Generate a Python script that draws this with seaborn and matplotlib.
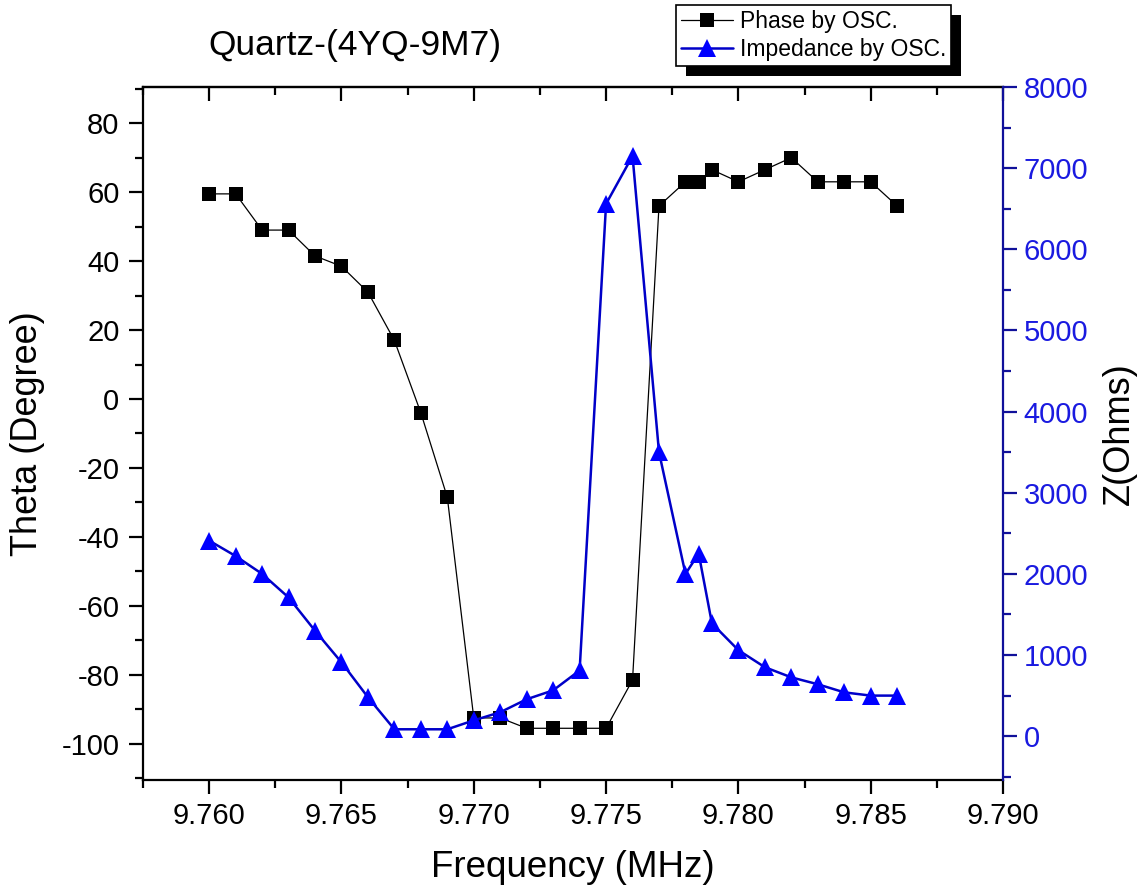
import matplotlib
matplotlib.use('Agg')
import matplotlib.pyplot as plt
import seaborn as sns
import pandas as pd
from matplotlib.ticker import MultipleLocator, FormatStrFormatter
from matplotlib.patches import Rectangle
from matplotlib.transforms import IdentityTransform

# === datos ===
freq = [9.760, 9.761, 9.762, 9.763, 9.764, 9.765, 9.766, 9.767, 9.768, 9.769,
        9.770, 9.771, 9.772, 9.773, 9.774, 9.775, 9.776, 9.777, 9.778, 9.7785,
        9.779, 9.780, 9.781, 9.782, 9.783, 9.784, 9.785, 9.786]
phase = [59.5, 59.5, 49, 49, 41.5, 38.5, 31, 17, -4, -28.5,
         -92.5, -92.5, -95.5, -95.5, -95.5, -95.5, -81.5, 56, 63, 63,
         66.5, 63, 66.5, 70, 63, 63, 63, 56]
impedance = [2410, 2220, 2000, 1710, 1300, 910, 480, 85, 85, 85,
             195, 295, 455, 565, 810, 6560, 7150, 3500, 2000, 2250,
             1390, 1060, 850, 725, 640, 540, 500, 500]

df = pd.DataFrame({'freq': freq, 'phase': phase, 'impedance': impedance})

sns.set_style('ticks')
plt.rcParams['font.family'] = ['Liberation Sans', 'DejaVu Sans']
plt.rcParams['axes.unicode_minus'] = False
plt.rcParams['text.color'] = 'black'
plt.rcParams['axes.labelcolor'] = 'black'
plt.rcParams['xtick.color'] = 'black'
plt.rcParams['ytick.color'] = 'black'

blue_axis = '#10109a'

fig = plt.figure(figsize=(11.43, 8.94), dpi=100)
ax = fig.add_axes([143 / 1143, 1 - 780 / 894, 860 / 1143, 693 / 894])
ax2 = ax.twinx()

sns.lineplot(data=df, x='freq', y='phase', ax=ax, color='black', lw=0.9,
             marker='s', markersize=10, markeredgewidth=0, legend=False,
             label='Phase by OSC.')
sns.lineplot(data=df, x='freq', y='impedance', ax=ax2, color='#0000c8', lw=1.8,
             marker='^', markersize=12.5, markerfacecolor='#0000ff',
             markeredgewidth=0, legend=False, label='Impedance by OSC.')

# --- ejes ---
ax.set_xlim(9.7575, 9.790)
ax.set_ylim(-110.5, 90.5)
ax2.set_ylim(-540, 8000)

ax.xaxis.set_major_locator(MultipleLocator(0.005))
ax.xaxis.set_minor_locator(MultipleLocator(0.0025))
ax.xaxis.set_major_formatter(FormatStrFormatter('%.3f'))
ax.yaxis.set_major_locator(MultipleLocator(20))
ax.yaxis.set_minor_locator(MultipleLocator(10))
ax2.yaxis.set_major_locator(MultipleLocator(1000))
ax2.yaxis.set_minor_locator(MultipleLocator(500))

for s in ['left', 'bottom', 'top']:
    ax.spines[s].set_linewidth(1.6)
    ax.spines[s].set_color('black')
ax.spines['right'].set_visible(False)
for s in ['left', 'bottom', 'top']:
    ax2.spines[s].set_visible(False)
ax2.spines['right'].set_linewidth(1.6)
ax2.spines['right'].set_color(blue_axis)

ax.tick_params(axis='both', which='major', direction='out', length=10, width=1.6,
               labelsize=21, colors='black')
ax.tick_params(axis='both', which='minor', direction='out', length=5.5, width=1.6)
ax.tick_params(axis='y', pad=7)
ax.tick_params(axis='x', pad=6)
ax2.tick_params(axis='y', which='major', direction='out', length=10, width=1.6,
                labelsize=21, color=blue_axis, labelcolor='#1a1ae0', pad=5)
ax2.tick_params(axis='y', which='minor', direction='out', length=5.5, width=1.6,
                color=blue_axis)

# ticks hacia dentro en el borde superior
top = ax.secondary_xaxis('top')
top.xaxis.set_major_locator(MultipleLocator(0.005))
top.xaxis.set_minor_locator(MultipleLocator(0.0025))
top.tick_params(which='major', direction='in', length=10, width=1.6, labeltop=False)
top.tick_params(which='minor', direction='in', length=5.5, width=1.6)
top.spines['top'].set_linewidth(1.6)

ax.set_xlabel('Frequency (MHz)', fontsize=26.5, labelpad=14, color='black')
ax.set_ylabel('Theta (Degree)', fontsize=26, labelpad=12, color='black')
ax2.set_ylabel('Z(Ohms)', fontsize=26, labelpad=10, color='black')
ax.grid(False)
ax2.grid(False)

fig.text(355 / 1143, 1 - 46 / 894, 'Quartz-(4YQ-9M7)', fontsize=25.5,
         ha='center', va='center', color='black')

# --- leyenda con sombra negra ---
handles = [ax.lines[0], ax2.lines[0]]
labels = ['Phase by OSC.', 'Impedance by OSC.']
leg = fig.legend(handles, labels, loc='upper left',
                 bbox_to_anchor=(676 / 1143, 1 - 5 / 894), fontsize=16.5,
                 frameon=True, fancybox=False, framealpha=1, edgecolor='black',
                 borderpad=0.2, handlelength=2.3, handletextpad=0.3,
                 labelspacing=0.25, borderaxespad=0)
leg.get_frame().set_linewidth(1.2)
for t in leg.get_texts():
    t.set_color('black')

fig.canvas.draw()
bb = leg.get_window_extent()
shadow = Rectangle((bb.x0 + 10, bb.y0 - 10), bb.width, bb.height,
                   transform=IdentityTransform(), facecolor='black',
                   edgecolor='none', zorder=leg.get_zorder() - 0.1)
fig.add_artist(shadow)

plt.savefig('out.png', dpi=100)
plt.close()
